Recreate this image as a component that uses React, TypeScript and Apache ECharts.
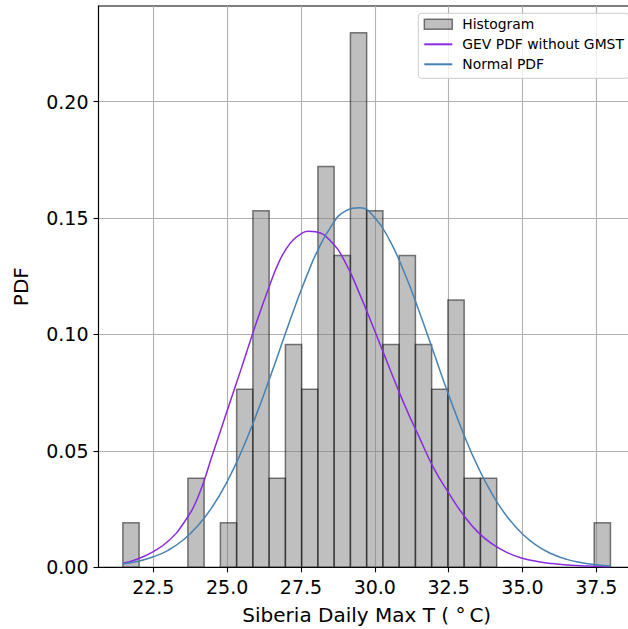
import React, { useEffect, useRef } from "react";
import * as echarts from "echarts";

// Histogram (density) values, 30 equal bins
const HIST_START = 21.47;
const BIN_WIDTH = 0.5503;
const histDensity = [
  0.0191, 0, 0, 0, 0.0383, 0, 0.0191, 0.0765, 0.1531, 0.0383,
  0.0957, 0.0765, 0.1722, 0.1339, 0.2296, 0.1531, 0.0957, 0.1339, 0.0957, 0.0765,
  0.1148, 0.0383, 0.0383, 0, 0, 0, 0, 0, 0, 0.0191,
];

// Curve sample positions
const curveX = [
  21.47, 22.0, 22.5, 23.0, 23.5, 24.0, 24.5, 25.0, 25.5, 26.0, 26.5, 26.75, 27.0, 27.25,
  27.5, 27.75, 28.0, 28.5, 29.0, 29.5, 30.0, 30.5, 31.0, 31.5, 32.0, 32.5, 33.0,
  33.5, 34.0, 34.5, 35.0, 35.5, 36.0, 36.5, 37.0, 37.5, 37.98,
];
const gevPdf = [
  0.0017, 0.0037, 0.0067, 0.0112, 0.0185, 0.0298, 0.0482, 0.0672, 0.0862, 0.1055, 0.1232, 0.131, 0.1368, 0.1408,
  0.1432, 0.1444, 0.1441, 0.1402, 0.131, 0.117, 0.1015, 0.0855, 0.07, 0.056, 0.0425, 0.032, 0.0225,
  0.015, 0.0098, 0.0062, 0.0039, 0.0025, 0.0016, 0.001, 0.0007, 0.0004, 0.0003,
];
const normalPdf = [
  0.0014, 0.0026, 0.0045, 0.0073, 0.0116, 0.0177, 0.026, 0.0368, 0.0502, 0.0659, 0.0833, 0.0923, 0.1014, 0.1103,
  0.1189, 0.1269, 0.1343, 0.146, 0.153, 0.1544, 0.1501, 0.1405, 0.1266, 0.11, 0.092, 0.0741, 0.0575,
  0.0429, 0.0309, 0.0214, 0.0143, 0.0092, 0.0057, 0.0034, 0.002, 0.0011, 0.0006,
];

const xTicks = [22.5, 25.0, 27.5, 30.0, 32.5, 35.0, 37.5];
const yTicks = [0, 0.05, 0.1, 0.15, 0.2];

const X_MIN = 20.645;
const X_MAX = 38.81;
const Y_MAX = 0.2411;

const FONT = "DejaVu Sans";

export default function App() {
  const ref = useRef<HTMLDivElement>(null);
  useEffect(() => {
    if (!ref.current) return;
    const chart = echarts.init(ref.current, null, { renderer: "svg" });
    const histData = histDensity
      .map((d, i) => [HIST_START + i * BIN_WIDTH, HIST_START + (i + 1) * BIN_WIDTH, d])
      .filter((r) => r[2] > 0);
    const gevData = curveX.map((x, i) => [x, gevPdf[i]]);
    const normData = curveX.map((x, i) => [x, normalPdf[i]]);

    const option: any = {
      animation: false,
      backgroundColor: "#ffffff",
      textStyle: { fontFamily: FONT },
      grid: {
        left: 98.5,
        top: 6,
        right: -7,
        bottom: 61.7,
        show: true,
        borderColor: "#000",
        borderWidth: 1.1,
        backgroundColor: "transparent",
        outerBoundsMode: "none",
        containLabel: false,
      },
      xAxis: {
        type: "value",
        min: X_MIN,
        max: X_MAX,
        name: "Siberia Daily Max T ( °\u2009C)",
        nameLocation: "middle",
        nameGap: 38,
        nameTextStyle: { fontSize: 20, color: "#000", fontFamily: FONT },
        axisLine: { show: true, lineStyle: { color: "#000", width: 1.1 } },
        axisTick: { show: true, customValues: xTicks, length: 5, lineStyle: { color: "#000", width: 1.1 } },
        axisLabel: {
          customValues: xTicks,
          formatter: (v: number) => v.toFixed(1),
          fontSize: 19,
          color: "#000",
          fontFamily: FONT,
          margin: 10,
        },
        splitLine: { show: true, lineStyle: { color: "#b0b0b0", width: 1.1 } },
      },
      yAxis: {
        type: "value",
        min: 0,
        max: Y_MAX,
        name: "PDF",
        nameLocation: "middle",
        nameGap: 68,
        nameTextStyle: { fontSize: 20, color: "#000", fontFamily: FONT },
        axisLine: { show: true, lineStyle: { color: "#000", width: 1.1 } },
        axisTick: { show: true, customValues: yTicks, length: 5, lineStyle: { color: "#000", width: 1.1 } },
        axisLabel: {
          customValues: yTicks,
          formatter: (v: number) => v.toFixed(2),
          fontSize: 19,
          color: "#000",
          fontFamily: FONT,
          margin: 10,
        },
        splitLine: { show: true, lineStyle: { color: "#b0b0b0", width: 1.1 } },
      },
      legend: {
        orient: "vertical",
        left: 418.3,
        top: 13.3,
        padding: [4, 5, 7, 5],
        itemGap: 6,
        itemWidth: 28,
        itemHeight: 10,
        backgroundColor: "rgba(255,255,255,0.8)",
        borderColor: "#cccccc",
        borderWidth: 1,
        borderRadius: 3,
        textStyle: { fontSize: 13.9, color: "#000", fontFamily: FONT, padding: [0, 0, 0, 5] },
        data: [
          {
            name: "Histogram",
            icon: "rect",
            itemStyle: { color: "rgba(128,128,128,0.5)", borderColor: "rgba(0,0,0,0.5)", borderWidth: 1.5 },
          },
          { name: "GEV PDF without GMST", itemStyle: { opacity: 0 } },
          { name: "Normal PDF", itemStyle: { opacity: 0 } },
        ],
      },
      series: [
        {
          name: "Histogram",
          type: "custom",
          z: 1,
          data: histData,
          encode: { x: [0, 1], y: 2 },
          itemStyle: { color: "rgba(128,128,128,0.5)", borderColor: "rgba(0,0,0,0.5)", borderWidth: 1.5 },
          renderItem: (params: any, api: any) => {
            const p0 = api.coord([api.value(0), api.value(2)]);
            const p1 = api.coord([api.value(1), 0]);
            return {
              type: "rect",
              shape: { x: p0[0], y: p0[1], width: p1[0] - p0[0], height: p1[1] - p0[1] },
              style: { fill: "rgba(128,128,128,0.5)", stroke: "rgba(0,0,0,0.5)", lineWidth: 1.5 },
            };
          },
        },
        {
          name: "GEV PDF without GMST",
          type: "line",
          data: gevData,
          smooth: 0.5,
          symbol: "none",
          color: "#8a2be2",
          lineStyle: { color: "#8a2be2", width: 1.5 },
          z: 3,
        },
        {
          name: "Normal PDF",
          type: "line",
          data: normData,
          smooth: 0.5,
          symbol: "none",
          color: "#4682b4",
          lineStyle: { color: "#4682b4", width: 1.5 },
          z: 3,
        },
      ],
    };
    chart.setOption(option);
    return () => chart.dispose();
  }, []);
  return (
    <div
      ref={ref}
      style={{ position: "fixed", left: 0, top: 0, width: 628, height: 629, background: "#fff" }}
    />
  );
}
